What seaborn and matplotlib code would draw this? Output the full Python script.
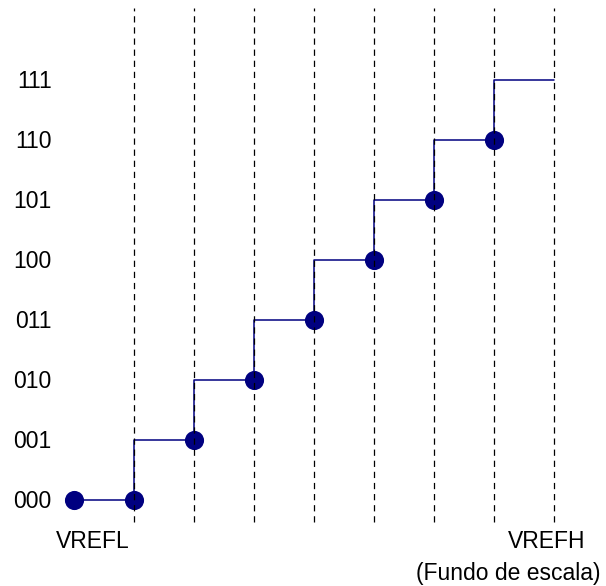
import matplotlib
matplotlib.use("Agg")
import matplotlib.pyplot as plt
import seaborn as sns
import pandas as pd

codes = ["000", "001", "010", "011", "100", "101", "110", "111"]
point_x = [0, 1, 2, 3, 4, 5, 6, 7]
point_code = [0, 0, 1, 2, 3, 4, 5, 6]
step_x = [0, 1, 2, 3, 4, 5, 6, 7, 8]
step_code = [0, 1, 2, 3, 4, 5, 6, 7, 7]
threshold_x = [1, 2, 3, 4, 5, 6, 7, 8]

sns.set_theme(style="white")
plt.rcParams["font.family"] = ["Liberation Sans", "DejaVu Sans"]
plt.rcParams["lines.scale_dashes"] = False

fig = plt.figure(figsize=(6.06, 5.86), dpi=100)
ax = fig.add_axes([0, 0, 1, 1])
ax.set_axis_off()

navy = "#000080"
steps = pd.DataFrame({"x": step_x, "y": step_code})
pts = pd.DataFrame({"x": point_x, "y": point_code})

sns.lineplot(data=steps, x="x", y="y", drawstyle="steps-post", color=navy,
             linewidth=1.1, ax=ax, zorder=2)
sns.scatterplot(data=pts, x="x", y="y", color=navy, s=190, edgecolor=navy,
                linewidth=0, ax=ax, zorder=3)

for xv in threshold_x:
    ax.plot([xv, xv], [-0.37, 8.2], color="black", linewidth=0.9,
            linestyle=(0, (4.5, 3.5)), zorder=4)

for i, c in enumerate(codes):
    ax.text(-0.37, i - 0.03, c, fontsize=16.5, ha="right", va="center", color="black")

ax.text(0.31, -0.70, "VREFL", fontsize=16.5, ha="center", va="center", color="black")
ax.text(7.88, -0.70, "VREFH", fontsize=16.5, ha="center", va="center", color="black")
ax.text(7.23, -1.22, "(Fundo de escala)", fontsize=16.5, ha="center", va="center", color="black")

ax.set_xlim(-74 / 60, (606 - 74) / 60)
ax.set_ylim((500 - 586) / 60, 500 / 60)
ax.set_xlabel("")
ax.set_ylabel("")

fig.savefig("out.png", dpi=100)
